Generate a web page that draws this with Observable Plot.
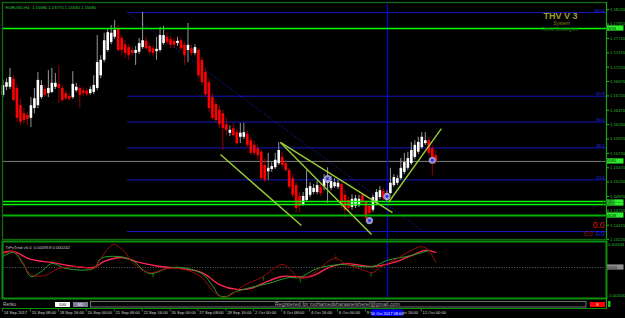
<!DOCTYPE html>
<html><head><meta charset="utf-8">
<script src="https://cdn.jsdelivr.net/npm/d3@7"></script>
<script src="https://cdn.jsdelivr.net/npm/@observablehq/plot@0.6"></script>
<style>
html,body{margin:0;padding:0;background:#000;}
#wrap{position:relative;width:625px;height:318px;background:#000;overflow:hidden;}
#wrap svg{position:absolute;left:0;overflow:visible;}
</style></head><body><div id="wrap"></div>
<script>
// ---------- data: EURUSD H4 candles (bar index 0..124) ----------
const open=[1.1673,1.1687,1.1687,1.1701,1.1685,1.1655,1.1641,1.1638,1.1633,1.1650,
1.1655,1.1669,1.1683,1.1676,1.1678,1.1687,1.1692,1.1685,1.1676,1.1671,
1.1669,1.1681,1.1685,1.1681,1.1680,1.1676,1.1678,1.1685,1.1707,1.1734,
1.1751,1.1765,1.1774,1.1789,1.1772,1.1761,1.1756,1.1751,1.1746,1.1748,
1.1756,1.1767,1.1758,1.1754,1.1749,1.1751,1.1763,1.1774,1.1770,1.1767,
1.1763,1.1768,1.1760,1.1751,1.1754,1.1746,1.1751,1.1734,1.1713,1.1695,
1.1669,1.1657,1.1647,1.1641,1.1622,1.1607,1.1615,1.1608,1.1600,1.1600,
1.1605,1.1594,1.1586,1.1580,1.1574,1.1551,1.1540,1.1544,1.1547,1.1554,
1.1565,1.1554,1.1542,1.1528,1.1516,1.1497,1.1483,1.1490,1.1499,1.1504,
1.1504,1.1513,1.1514,1.1520,1.1511,1.1514,1.1513,1.1518,1.1499,1.1490,
1.1478,1.1480,1.1481,1.1499,1.1487,1.1480,1.1473,1.1485,1.1495,1.1506,
1.1490,1.1502,1.1516,1.1520,1.1528,1.1539,1.1546,1.1554,1.1565,1.1574,
1.1582,1.1589,1.1594,1.1580,1.1568];
const close=[1.1690,1.1695,1.1704,1.1664,1.1633,1.1626,1.1629,1.1631,1.1655,1.1667,
1.1699,1.1690,1.1673,1.1685,1.1694,1.1694,1.1685,1.1664,1.1667,1.1666,
1.1692,1.1687,1.1673,1.1676,1.1674,1.1683,1.1690,1.1730,1.1734,1.1768,
1.1782,1.1781,1.1786,1.1751,1.1751,1.1746,1.1742,1.1746,1.1751,1.1763,
1.1768,1.1754,1.1748,1.1746,1.1753,1.1777,1.1777,1.1765,1.1760,1.1760,
1.1767,1.1754,1.1742,1.1760,1.1746,1.1756,1.1707,1.1695,1.1674,1.1650,
1.1633,1.1629,1.1622,1.1615,1.1612,1.1612,1.1603,1.1589,1.1607,1.1608,
1.1586,1.1572,1.1572,1.1568,1.1528,1.1525,1.1546,1.1549,1.1560,1.1577,
1.1551,1.1542,1.1513,1.1499,1.1476,1.1480,1.1497,1.1511,1.1514,1.1511,
1.1516,1.1502,1.1527,1.1523,1.1523,1.1521,1.1520,1.1481,1.1473,1.1476,
1.1492,1.1493,1.1492,1.1487,1.1459,1.1467,1.1495,1.1504,1.1507,1.1493,
1.1502,1.1520,1.1530,1.1528,1.1546,1.1556,1.1563,1.1577,1.1586,1.1591,
1.1600,1.1594,1.1572,1.1560,1.1558];
const high=[1.1699,1.1702,1.1720,1.1707,1.1692,1.1667,1.1650,1.1643,1.1669,1.1685,
1.1713,1.1699,1.1690,1.1716,1.1720,1.1711,1.1725,1.1690,1.1681,1.1676,
1.1714,1.1694,1.1690,1.1687,1.1685,1.1688,1.1707,1.1777,1.1742,1.1781,
1.1789,1.1794,1.1803,1.1794,1.1777,1.1768,1.1761,1.1756,1.1758,1.1772,
1.1817,1.1774,1.1763,1.1760,1.1774,1.1791,1.1793,1.1781,1.1775,1.1772,
1.1774,1.1774,1.1765,1.1798,1.1760,1.1761,1.1754,1.1739,1.1720,1.1702,
1.1676,1.1664,1.1654,1.1647,1.1633,1.1620,1.1624,1.1614,1.1624,1.1624,
1.1610,1.1600,1.1593,1.1586,1.1577,1.1563,1.1572,1.1556,1.1572,1.1591,
1.1574,1.1560,1.1546,1.1535,1.1521,1.1504,1.1504,1.1542,1.1521,1.1518,
1.1523,1.1518,1.1535,1.1547,1.1532,1.1528,1.1525,1.1521,1.1507,1.1495,
1.1500,1.1499,1.1499,1.1502,1.1490,1.1485,1.1499,1.1509,1.1514,1.1511,
1.1507,1.1546,1.1535,1.1533,1.1563,1.1572,1.1574,1.1591,1.1594,1.1600,
1.1608,1.1608,1.1600,1.1586,1.1577];
const low=[1.1669,1.1681,1.1683,1.1661,1.1626,1.1620,1.1622,1.1620,1.1617,1.1641,
1.1650,1.1666,1.1669,1.1669,1.1676,1.1683,1.1659,1.1661,1.1664,1.1662,
1.1666,1.1678,1.1650,1.1671,1.1671,1.1673,1.1674,1.1681,1.1702,1.1730,
1.1748,1.1761,1.1770,1.1748,1.1742,1.1737,1.1734,1.1741,1.1725,1.1744,
1.1753,1.1751,1.1742,1.1741,1.1734,1.1748,1.1760,1.1760,1.1754,1.1754,
1.1758,1.1751,1.1725,1.1730,1.1741,1.1742,1.1702,1.1690,1.1669,1.1643,
1.1629,1.1626,1.1615,1.1577,1.1603,1.1601,1.1600,1.1586,1.1589,1.1596,
1.1582,1.1568,1.1567,1.1560,1.1525,1.1521,1.1525,1.1539,1.1544,1.1551,
1.1547,1.1539,1.1509,1.1495,1.1469,1.1469,1.1480,1.1487,1.1495,1.1500,
1.1500,1.1497,1.1507,1.1485,1.1507,1.1511,1.1509,1.1476,1.1459,1.1469,
1.1473,1.1476,1.1478,1.1481,1.1452,1.1462,1.1469,1.1481,1.1492,1.1490,
1.1487,1.1500,1.1513,1.1516,1.1525,1.1535,1.1542,1.1551,1.1561,1.1570,
1.1579,1.1586,1.1568,1.1533,1.1553];

// price axis ticks
const priceTicks=[1.1422,1.1447,1.1472,1.1497,1.1522,1.1547,1.1572,1.1597,1.1622,1.1647,1.1672,1.1697,1.1722,1.1747,1.1772,1.1797,1.1822];
// date axis
const dateIdx=[0,8,16,24,32,40,48,56,64,72,80,88,96,104,112,120];
const dateLabels=["14 Sep 2017","15 Sep 08:00","18 Sep 16:00","20 Sep 00:00","21 Sep 08:00","22 Sep 16:00","26 Sep 00:00","27 Sep 08:00","28 Sep 16:00","2 Oct 00:00","3 Oct 08:00","4 Oct 16:00","6 Oct 00:00","9 Oct 08:00","10 Oct 16:00","12 Oct 00:00"];
const vLineIdx=110.2, vLineLabel="10 Oct 2017 08:00";

// horizontal lines
const brightGreenLevels=[1.17893,1.14883,1.14830];
const darkGreenLevels=[1.14639];
// fibonacci
const fibHigh=1.1817, fibLow=1.1436, fibStart=35.7, fibEnd=120.5;
const fibLevels=[0,23.6,38.2,50,61.8,100];
// trendlines
const trendX1=[62.3,79.5,79.5,110.5], trendY1=[1.1570,1.1591,1.1591,1.1487];
const trendX2=[85.5,105.6,111.6,125.6], trendY2=[1.14465,1.1431,1.1469,1.1615];
// signal circles
const sigIdx=[93,105,110,123], sigPrice=[1.1528,1.1455,1.1497,1.1560];

// indicator
const greenIdx=[0,3,6,8,11,14,18,26,28,33,37,42,47,51,57,60,62,64,66,71,76,82,85,90,97,100,106,110,117,122];
const greenVal=[0.00078,0.00107,0.00014,-0.00064,-0.00028,0.00028,-0.00007,-0.00007,0.00064,0.00078,0.0005,-0.00043,-0.00007,0,-0.00043,-0.00128,-0.00199,-0.00206,-0.00178,-0.00142,-0.00114,-0.00071,-0.00071,-0.00007,0.00021,0.00014,0.00007,0.0005,0.00085,0.00121];
const darkIdx=[0,3,5,8,12,16,22,26,28,31,32,35,37,42,47,52,57,60,63,65,69,74,80,82,85,88,95,98,102,106,108,112,117,120,122,124];
const darkVal=[0.00092,0.00114,0.00064,-0.0005,-0.00057,-0.00007,0.00007,-0.00007,0.00064,0.00156,0.00163,0.00107,0.00036,-0.00036,-0.00007,-0.00014,-0.00071,-0.00163,-0.00213,-0.00199,-0.00128,-0.00071,0.00021,-0.00007,-0.00078,-0.00057,0.00064,0.00028,-0.00007,-0.00036,0,0.0005,0.00121,0.00149,0.00121,0.00036];
const pinkIdx=[0,3,8,14,19,26,29,34,39,45,51,57,62,67,71,75,80,88,94,98,106,112,117,121,124];
const pinkVal=[0.00107,0.00114,0.00057,0.00036,0.00014,0,0.00043,0.00071,0.00036,0.00007,-0.00007,-0.00036,-0.00121,-0.00156,-0.00149,-0.00107,-0.00064,-0.00064,0.00007,0.00028,0.00007,0.00036,0.00085,0.00121,0.00107];
const upIdx=[43,74.6,85.2,105.5], upVal=[-0.00062,-0.00078,-0.00097,-0.00055];
const downIdx=[95.3], downVal=[0.00085];
const indTicks=[0.001634,-0.00204];

// ---------- build ----------
const FONT="Liberation Sans, Arial, sans-serif";
const xDom=[-0.1433,172.92];
const yDom=[1.142214,1.183452];
const n=close.length-1;
const f5=d=>d.toFixed(5);
const bars=close.map((c,i)=>({i,open:open[i],high:high[i],low:low[i],close:c}));
const bull=bars.filter(d=>d.close>=d.open), bear=bars.filter(d=>d.close<d.open);
const fib=fibLevels.map(l=>({l,price:fibLow+(fibHigh-fibLow)*l/100}));
const trends=trendX1.map((x,k)=>({x1:x,y1:trendY1[k],x2:trendX2[k],y2:trendY2[k]}));
const sigs=sigIdx.map((x,k)=>({x,y:sigPrice[k]}));
const header=`EURUSD,H4  ${f5(open[n])} ${f5(high[n])} ${f5(low[n])} ${f5(close[n])}`;

const main=Plot.plot({
  width:625,height:240,marginLeft:2,marginRight:19,marginTop:2,marginBottom:1,
  x:{domain:xDom,axis:null},
  y:{domain:yDom},
  style:{background:"transparent",overflow:"visible",fontFamily:FONT},
  marks:[
    Plot.ruleY(fib,{y:"price",x1:fibStart,x2:xDom[1],stroke:"#1a1ad2",strokeWidth:0.9}),
    Plot.text(fib.filter(d=>d.l>0),{y:"price",text:d=>d.l.toFixed(1),frameAnchor:"right",dx:-2,dy:-2.2,textAnchor:"end",fontSize:4.2,fill:"#2a2aff"}),
    Plot.link([{x1:fibStart,y1:fibHigh,x2:fibEnd,y2:fibLow}],{x1:"x1",y1:"y1",x2:"x2",y2:"y2",stroke:"#2020d8",strokeWidth:0.9,strokeDasharray:"1.2,2"}),
    Plot.ruleY([close[n]],{stroke:"#808080",strokeWidth:1}),
    Plot.ruleX([vLineIdx],{stroke:"#0000ff",strokeWidth:1}),
    Plot.ruleX(bull,{x:"i",y1:"low",y2:"high",stroke:"#a8a8a8",strokeWidth:0.9}),
    Plot.ruleX(bear,{x:"i",y1:"low",y2:"high",stroke:"#a00000",strokeWidth:0.9}),
    Plot.ruleX(bull,{x:"i",y1:"open",y2:"close",stroke:"#ffffff",strokeWidth:2.6}),
    Plot.ruleX(bear,{x:"i",y1:"open",y2:"close",stroke:"#ff0000",strokeWidth:2.6}),
    Plot.ruleY(brightGreenLevels,{stroke:"#00ff00",strokeWidth:1.3}),
    Plot.ruleY(darkGreenLevels,{stroke:"#00b400",strokeWidth:2.2}),
    Plot.link(trends,{x1:"x1",y1:"y1",x2:"x2",y2:"y2",stroke:"#9acd32",strokeWidth:1.4}),
    Plot.dot(sigs,{x:"x",y:"y",r:3.6,fill:"#a4a4d4",fillOpacity:0.9}),
    Plot.dot(sigs,{x:"x",y:"y",r:1.4,fill:"#2424ff"}),
    Plot.frame({stroke:"#0d6a0d",strokeWidth:1.3}),
    Plot.ruleX([xDom[1]],{stroke:"#1aa01a",strokeWidth:1}),
    Plot.axisY(priceTicks,{anchor:"right",tickFormat:f5,tickSize:2,tickPadding:1.5,fontSize:4.2,color:"#2fbf2f"}),
    Plot.text([header],{text:d=>d,frameAnchor:"top-left",dx:3,dy:3.5,textAnchor:"start",fontSize:4.2,fill:"#2fcf2f"}),
    Plot.text(["THV V 3"],{text:d=>d,frameAnchor:"top-right",dx:-46,dy:10,textAnchor:"middle",fontSize:9,fontWeight:"bold",fill:"#a0a020"}),
    Plot.text(["System"],{text:d=>d,frameAnchor:"top-right",dx:-45,dy:18.5,textAnchor:"middle",fontSize:5,fill:"#86861c"}),
    Plot.text(["Forex Strategies"],{text:d=>d,frameAnchor:"top-right",dx:-47,dy:24.5,textAnchor:"middle",fontSize:5,fill:"#1e701e"}),
    Plot.text(["0.0"],{text:d=>d,frameAnchor:"bottom-right",dx:-2,dy:-12,textAnchor:"end",fontSize:8.5,fill:"#e01414"}),
    Plot.text(["0.0"],{text:d=>d,frameAnchor:"bottom-right",dx:-14,dy:-4,textAnchor:"end",fontSize:6.3,fill:"#b01010"}),
    Plot.text(["0.0"],{text:d=>d,frameAnchor:"bottom-right",dx:-2,dy:-4,textAnchor:"end",fontSize:6.3,fill:"#2a2aff"})
  ]
});
main.style.top="0px";

const ind=Plot.plot({
  width:625,height:78,marginLeft:2,marginRight:19,marginTop:1,marginBottom:20,
  x:{domain:xDom,axis:null},
  y:{domain:[-0.002201,0.001846],axis:null},
  style:{background:"transparent",overflow:"visible",fontFamily:FONT},
  marks:[
    Plot.ruleY([0],{stroke:"#7a7a7a",strokeWidth:0.8,strokeDasharray:"1,1.6"}),
    Plot.ruleX([vLineIdx],{stroke:"#0000ff",strokeWidth:1}),
    Plot.line(pinkIdx.map((x,k)=>({x,v:pinkVal[k]})),{x:"x",y:"v",stroke:"#ff2452",strokeWidth:1.3,curve:"catmull-rom"}),
    Plot.line(greenIdx.map((x,k)=>({x,v:greenVal[k]})),{x:"x",y:"v",stroke:"#23a023",strokeWidth:1,curve:"catmull-rom"}),
    Plot.line(darkIdx.map((x,k)=>({x,v:darkVal[k]})),{x:"x",y:"v",stroke:"#9a0c0c",strokeWidth:1,curve:"catmull-rom"}),
    Plot.text(upIdx.map((x,k)=>({x,v:upVal[k]})),{x:"x",y:"v",text:()=>"↑",fontSize:6.5,fontWeight:"bold",fill:"#1cff1c"}),
    Plot.text(downIdx.map((x,k)=>({x,v:downVal[k]})),{x:"x",y:"v",text:()=>"↓",fontSize:6.5,fontWeight:"bold",fill:"#ff1c1c"}),
    Plot.frame({stroke:"#0b8f0b",strokeWidth:2}),
    Plot.text(["TrFxTrnd v6.0  0.000919 0.000242"],{text:d=>d,frameAnchor:"top-left",dx:3,dy:5,textAnchor:"start",fontSize:4.2,fill:"#c8c8c8"}),
    Plot.text(indTicks,{y:d=>d,text:d=>d.toFixed(6),frameAnchor:"right",dx:1.8,textAnchor:"start",fontSize:3.8,fill:"#2fbf2f"}),
    Plot.text(dateLabels,{x:dateIdx,text:d=>d,frameAnchor:"bottom",dy:15.2,dx:0.8,textAnchor:"start",fontSize:4.1,fill:"#d6d6d6"})
  ]
});
ind.style.top="240px";

const wrap=document.getElementById("wrap");
wrap.appendChild(main);
wrap.appendChild(ind);

// price label boxes via the plot's scales
function boxes(svg,ys,items){
  const g=d3.select(svg).append("g").attr("font-family",FONT);
  items.forEach(it=>{
    const y=ys.apply(it.v);
    const h=it.h||5.2;
    g.append("rect").attr("x",607).attr("y",y-h/2).attr("width",16.5).attr("height",h).attr("fill",it.fill);
    g.append("text").attr("x",608.5).attr("y",y).attr("dy","0.36em").attr("font-size",it.fs||4.2).attr("fill",it.color).text(it.t);
  });
}
const ysMain=main.scale("y");
const boxLevels=[...brightGreenLevels,...darkGreenLevels,close[n]];
boxes(main,ysMain,boxLevels.map(v=>{
  const tight=(v>1.1480&&v<1.1490);
  return {v,t:f5(v),fill:"#2cf02c",color:"#0a2a0a",h:tight?3.2:5.2,fs:tight?3.4:4.2};
}));
boxes(ind,ind.scale("y"),[{v:0,t:"0.000000",fill:"#8e8e8e",color:"#202020"}]);

// bottom toolbar + date axis decorations
const xs=ind.scale("x");
const deco=d3.create("svg").attr("width",625).attr("height",318).style("top","0px")
  .attr("font-family",FONT).style("pointer-events","none");
deco.append("line").attr("x1",606.5).attr("x2",606.5).attr("y1",298).attr("y2",309).attr("stroke","#1aa01a");
deco.append("line").attr("x1",2).attr("x2",606.5).attr("y1",308.5).attr("y2",308.5).attr("stroke","#0b8f0b").attr("stroke-width",1);
dateIdx.forEach(i=>{const x=xs.apply(i);deco.append("line").attr("x1",x).attr("x2",x).attr("y1",308.5).attr("y2",311.5).attr("stroke","#1aa01a").attr("stroke-width",0.8);});
deco.append("text").attr("x",3).attr("y",306).attr("font-size",4.5).attr("fill","#b8b8b8").text("Renko");
deco.append("rect").attr("x",55).attr("y",302).attr("width",15).attr("height",5).attr("fill","#ffffff");
deco.append("text").attr("x",62.5).attr("y",306).attr("text-anchor","middle").attr("font-size",4.4).attr("fill","#000").text("100");
deco.append("rect").attr("x",73).attr("y",302).attr("width",15).attr("height",5).attr("fill","#7c7c96");
deco.append("text").attr("x",80.5).attr("y",306).attr("text-anchor","middle").attr("font-size",4.4).attr("fill","#e8e8e8").text("M2");
deco.append("rect").attr("x",90.5).attr("y",301.5).attr("width",495.5).attr("height",5.5).attr("fill","#060606").attr("stroke","#8a8a8a").attr("stroke-width",0.8);
deco.append("text").attr("x",337.5).attr("y",306.2).attr("text-anchor","middle").attr("font-size",5.3).attr("fill","#a4a4a4").text("Registered for mohamedsharawielsheref@gmail.com");
deco.append("rect").attr("x",590).attr("y",302).attr("width",15).attr("height",5).attr("fill","#ff0000");
deco.append("text").attr("x",597.5).attr("y",306).attr("text-anchor","middle").attr("font-size",4.4).attr("fill","#fff").text("X");
deco.append("rect").attr("x",608).attr("y",301).attr("width",2.5).attr("height",6).attr("fill","#1fbf1f");
const vx=xs.apply(vLineIdx);
deco.append("rect").attr("x",vx-15.5).attr("y",309.5).attr("width",31).attr("height",6.5).attr("fill","#0000ff");
deco.append("text").attr("x",vx).attr("y",314.6).attr("text-anchor","middle").attr("font-size",4).attr("fill","#ffffff").text(vLineLabel);
wrap.appendChild(deco.node());
</script></body></html>
